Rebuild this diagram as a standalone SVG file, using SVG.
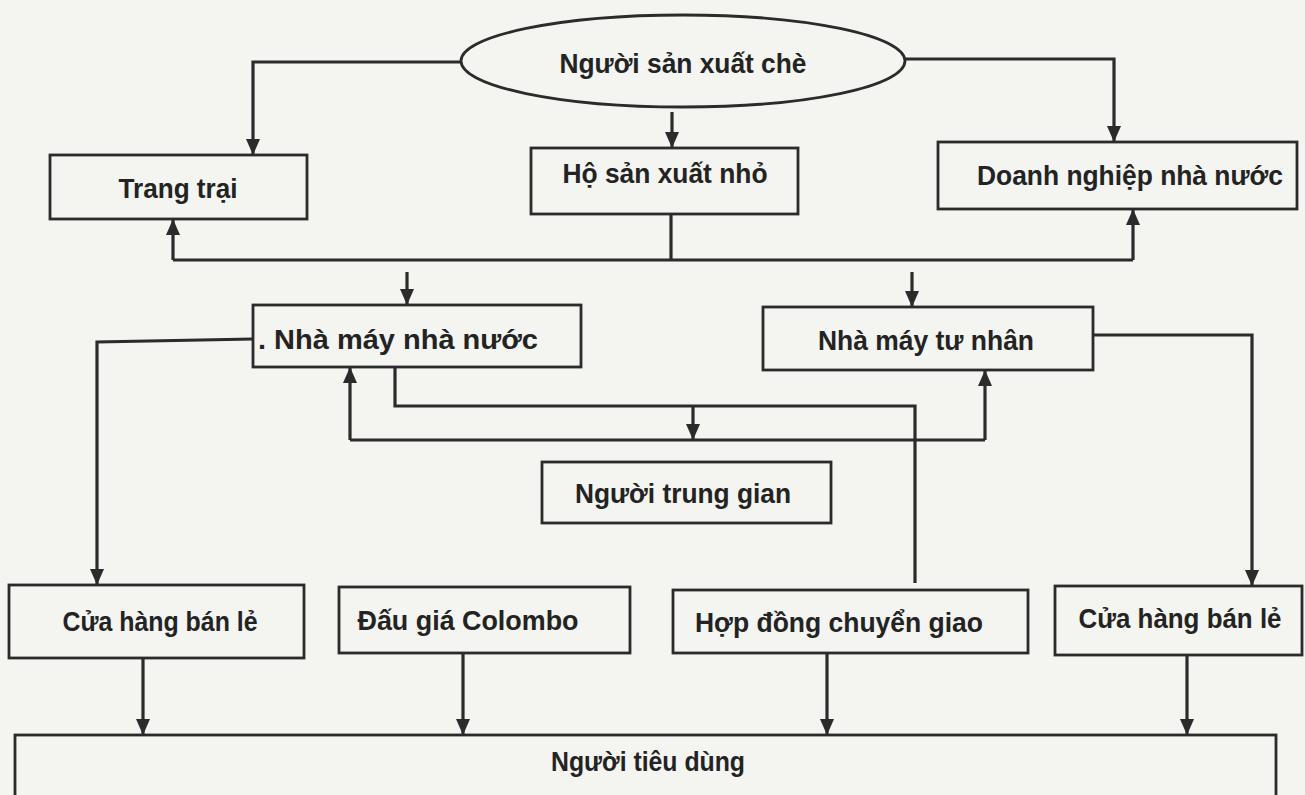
<svg xmlns="http://www.w3.org/2000/svg" width="1305" height="795" viewBox="0 0 1305 795">
<style>
.box{fill:none;stroke:#2b2b2b;stroke-width:2.8}
.lbl{font-family:"Liberation Sans",Arial,sans-serif;font-weight:bold;font-size:28px;fill:#232323;text-anchor:middle}
.cn{fill:none;stroke:#2b2b2b;stroke-width:3.2;stroke-linejoin:miter}
.ar{marker-end:url(#ah)}
</style>
<defs>
<marker id="ah" markerUnits="userSpaceOnUse" markerWidth="17" markerHeight="14" refX="16" refY="7" orient="auto">
<path d="M0,0 L16,7 L0,14 z" fill="#2b2b2b"/>
</marker>
</defs>
<rect x="0" y="0" width="1305" height="795" fill="#f4f4f1"/>

<g id="connectors">
<polyline class="cn ar" points="461,62 253,62 253,155"/>
<polyline class="cn ar" points="905,59 1114,59 1114,142"/>
<line class="cn ar" x1="672" y1="112" x2="672" y2="148"/>
<line class="cn" x1="671" y1="214" x2="671" y2="260"/>
<line class="cn" x1="173" y1="260" x2="1133" y2="260"/>
<line class="cn ar" x1="173" y1="260" x2="173" y2="219"/>
<line class="cn ar" x1="1133" y1="260" x2="1133" y2="209"/>
<line class="cn ar" x1="407" y1="272" x2="407" y2="305"/>
<line class="cn ar" x1="912" y1="272" x2="912" y2="307"/>
<polyline class="cn ar" points="253,339 97,342 97,585"/>
<polyline class="cn" points="395,367 395,406 915,406 915,583"/>
<line class="cn" x1="350" y1="440" x2="985" y2="440"/>
<line class="cn ar" x1="350" y1="440" x2="350" y2="367"/>
<line class="cn ar" x1="985" y1="440" x2="985" y2="370"/>
<line class="cn ar" x1="693" y1="406" x2="693" y2="440"/>
<polyline class="cn ar" points="1093,335 1252,335 1252,586"/>
<line class="cn ar" x1="143" y1="658" x2="143" y2="735"/>
<line class="cn ar" x1="463" y1="653" x2="463" y2="735"/>
<line class="cn ar" x1="827" y1="653" x2="827" y2="735"/>
<line class="cn ar" x1="1187" y1="655" x2="1187" y2="735"/>
</g>

<g id="nguoi-san-xuat-che">
<ellipse class="box" cx="683" cy="61" rx="222" ry="46"/>
<text class="lbl" x="683" y="73" textLength="247" lengthAdjust="spacingAndGlyphs">Người sản xuất chè</text>
</g>
<g id="trang-trai">
<rect class="box" x="50" y="155" width="257" height="64"/>
<text class="lbl" x="178" y="198" textLength="119" lengthAdjust="spacingAndGlyphs">Trang trại</text>
</g>
<g id="ho-san-xuat-nho">
<rect class="box" x="531" y="148" width="267" height="66"/>
<text class="lbl" x="665" y="183" textLength="205" lengthAdjust="spacingAndGlyphs">Hộ sản xuất nhỏ</text>
</g>
<g id="doanh-nghiep-nha-nuoc">
<rect class="box" x="938" y="142" width="359" height="67"/>
<text class="lbl" x="1130" y="185" textLength="306" lengthAdjust="spacingAndGlyphs">Doanh nghiệp nhà nước</text>
</g>
<g id="nha-may-nha-nuoc">
<rect class="box" x="253" y="305" width="328" height="62"/>
<text class="lbl" x="398" y="349" textLength="280" lengthAdjust="spacingAndGlyphs">. Nhà máy nhà nước</text>
</g>
<g id="nha-may-tu-nhan">
<rect class="box" x="763" y="307" width="330" height="63"/>
<text class="lbl" x="926" y="350" textLength="216" lengthAdjust="spacingAndGlyphs">Nhà máy tư nhân</text>
</g>
<g id="nguoi-trung-gian">
<rect class="box" x="542" y="462" width="289" height="61"/>
<text class="lbl" x="683" y="503" textLength="216" lengthAdjust="spacingAndGlyphs">Người trung gian</text>
</g>
<g id="cua-hang-ban-le-1">
<rect class="box" x="9" y="585" width="295" height="73"/>
<text class="lbl" x="160" y="631" textLength="195" lengthAdjust="spacingAndGlyphs">Cửa hàng bán lẻ</text>
</g>
<g id="dau-gia-colombo">
<rect class="box" x="339" y="587" width="291" height="66"/>
<text class="lbl" x="468" y="630" textLength="221" lengthAdjust="spacingAndGlyphs">Đấu giá Colombo</text>
</g>
<g id="hop-dong-chuyen-giao">
<rect class="box" x="673" y="590" width="355" height="63"/>
<text class="lbl" x="839" y="632" textLength="288" lengthAdjust="spacingAndGlyphs">Hợp đồng chuyển giao</text>
</g>
<g id="cua-hang-ban-le-2">
<rect class="box" x="1055" y="586" width="247" height="69"/>
<text class="lbl" x="1180" y="628" textLength="203" lengthAdjust="spacingAndGlyphs">Cửa hàng bán lẻ</text>
</g>
<g id="nguoi-tieu-dung">
<rect class="box" x="15" y="735" width="1261" height="80"/>
<text class="lbl" x="648" y="771" textLength="194" lengthAdjust="spacingAndGlyphs">Người tiêu dùng</text>
</g>
</svg>
